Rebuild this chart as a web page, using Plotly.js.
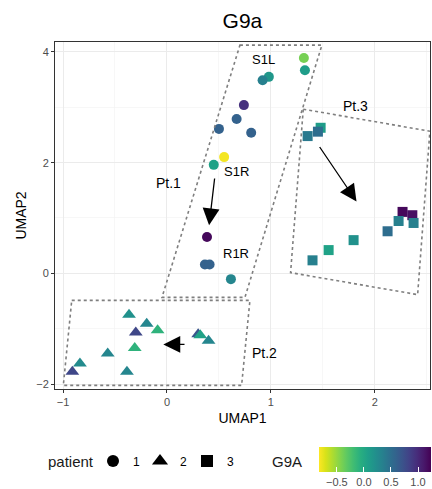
<!DOCTYPE html>
<html><head><meta charset="utf-8">
<script src="https://cdn.plot.ly/plotly-3.0.1.min.js"></script>
<style>html,body{margin:0;padding:0;background:#fff}#plot{width:432px;height:489px}</style>
</head><body><div id="plot"></div>
<script>
// Patient 1 (circles)
const p1_x = [1.317, 1.327, 0.98, 0.92, 0.74, 0.67, 0.50, 0.81, 0.55, 0.45, 0.385, 0.365, 0.41, 0.615];
const p1_y = [3.89, 3.67, 3.55, 3.49, 3.04, 2.79, 2.61, 2.54, 2.10, 1.96, 0.655, 0.16, 0.16, -0.105];
const p1_g = [-0.4, 0.1, 0.15, 0.35, 0.95, 0.6, 0.6, 0.6, -0.8, 0.05, 1.2, 0.6, 0.6, 0.3];
// Patient 2 (triangles)
const p2_x = [-0.365, -0.195, -0.30, -0.09, 0.30, 0.32, 0.40, -0.31, -0.57, -0.837, -0.91, -0.385];
const p2_y = [-0.747, -0.91, -1.07, -1.03, -1.10, -1.12, -1.22, -1.35, -1.45, -1.63, -1.78, -1.78];
const p2_g = [0.2, 0.3, 0.8, -0.1, 0.7, 0.05, 0.3, -0.1, 0.3, 0.25, 0.8, 0.3];
// Patient 3 (squares)
const p3_x = [1.478, 1.452, 1.353, 2.266, 2.36, 2.228, 2.372, 2.122, 1.795, 1.555, 1.40];
const p3_y = [2.63, 2.56, 2.48, 1.11, 1.05, 0.946, 0.91, 0.76, 0.60, 0.42, 0.235];
const p3_g = [0.1, 0.5, 0.4, 1.2, 1.15, 0.35, 0.35, 0.5, 0.2, 0.05, 0.35];

const patients = ['1', '2', '3'];
const colorTicks = [-0.5, 0.0, 0.5, 1.0];
const colorTickText = ['\u22120.5', '0.0', '0.5', '1.0'];

// Annotation region polygons (data coordinates)
const pt1_poly_x = [0.702, 1.490, 0.75, -0.048];
const pt1_poly_y = [4.123, 4.123, -0.434, -0.434];
const pt2_poly_x = [-0.916, 0.798, 0.718, -0.997];
const pt2_poly_y = [-0.488, -0.488, -2.024, -2.024];
const pt3_poly_x = [1.311, 2.529, 2.411, 1.189];
const pt3_poly_y = [2.966, 2.568, -0.385, 0.013];

// Arrows [fromX, fromY, toX, toY]
const arrows = [
  [0.46, 1.74, 0.405, 0.87],
  [1.459, 2.31, 1.823, 1.30],
  [0.183, -1.284, -0.035, -1.284]
];
// Text labels
const labels = [
  {t: 'S1L', x: 0.933, y: 3.87},
  {t: 'S1R', x: 0.673, y: 1.844},
  {t: 'R1R', x: 0.663, y: 0.362},
  {t: 'Pt.1', x: 0.019, y: 1.63},
  {t: 'Pt.3', x: 1.81, y: 3.02},
  {t: 'Pt.2', x: 0.942, y: -1.447}
];

function polyPath(xs, ys) {
  let s = 'M' + xs[0] + ',' + ys[0];
  for (let i = 1; i < xs.length; i++) s += ' L' + xs[i] + ',' + ys[i];
  return s + ' Z';
}

const FONT = 'Liberation Sans, Arial, sans-serif';
const PW = 375, PH = 347, PL = 55, PB = 389; // plot area in pixels
const px2x = p => (p - PL) / PW;
const px2y = p => (PB - p) / PH;

const traces = [
  {x: p1_x, y: p1_y, type: 'scatter', mode: 'markers', showlegend: false, hoverinfo: 'skip',
   marker: {symbol: 'circle', size: 10, color: p1_g, coloraxis: 'coloraxis'}},
  {x: p2_x, y: p2_y, type: 'scatter', mode: 'markers', showlegend: false, hoverinfo: 'skip',
   marker: {symbol: 'triangle-up', size: 12, color: p2_g, coloraxis: 'coloraxis'}},
  {x: p3_x, y: p3_y, type: 'scatter', mode: 'markers', showlegend: false, hoverinfo: 'skip',
   marker: {symbol: 'square', size: 10, color: p3_g, coloraxis: 'coloraxis'}}
];
const syms = ['circle', 'triangle-up', 'square'];
const symSizes = [12, 14, 12];
patients.forEach((p, i) => {
  traces.push({x: [null], y: [null], type: 'scatter', mode: 'markers', name: p, showlegend: true,
    marker: {symbol: syms[i], size: symSizes[i], color: '#000'}});
});

const shapes = [
  [pt1_poly_x, pt1_poly_y], [pt2_poly_x, pt2_poly_y], [pt3_poly_x, pt3_poly_y]
].map(([xs, ys]) => ({type: 'path', xref: 'x', yref: 'y', path: polyPath(xs, ys),
  line: {color: '#7f7f7f', width: 1.6, dash: 'dot'}, layer: 'above'}));

const annotations = [];
arrows.forEach(a => {
  annotations.push({x: a[2], y: a[3], ax: a[0], ay: a[1], xref: 'x', yref: 'y', axref: 'x', ayref: 'y',
    showarrow: true, arrowhead: 2, arrowsize: 2.6, arrowwidth: 1.3, arrowcolor: '#000', text: ''});
});
labels.forEach(l => {
  annotations.push({x: l.x, y: l.y, xref: 'x', yref: 'y', text: l.t, showarrow: false,
    font: {family: FONT, size: l.t.startsWith('Pt') ? 14 : 13, color: '#000'}});
});
annotations.push({x: px2x(287), y: px2y(462), xref: 'paper', yref: 'paper',
  xanchor: 'center', yanchor: 'middle', text: 'G9A', showarrow: false,
  font: {family: FONT, size: 15, color: '#1a1a1a'}});
annotations.push({x: px2x(71), y: px2y(461), xref: 'paper', yref: 'paper',
  xanchor: 'center', yanchor: 'middle', text: 'patient', showarrow: false,
  font: {family: FONT, size: 15, color: '#1a1a1a'}});

const layout = {
  width: 432, height: 489,
  margin: {l: 55, r: 2, t: 42, b: 100, autoexpand: false},
  paper_bgcolor: '#fff', plot_bgcolor: '#fff',
  font: {family: FONT, color: '#000'},
  title: {text: 'G9a', x: 0.5612, xanchor: 'center', y: 0.958, yanchor: 'middle',
    font: {family: FONT, size: 21, color: '#000', weight: 'normal'}},
  xaxis: {range: [-1.077, 2.53], tickvals: [-1, 0, 1, 2], ticktext: ['\u22121', '0', '1', '2'],
    showgrid: true, gridcolor: '#ebebeb', gridwidth: 1,
    minor: {tickvals: [-0.5, 0.5, 1.5, 2.5], showgrid: true, gridcolor: '#f2f2f2', gridwidth: 0.6, ticks: ''},
    zeroline: false, showline: true, mirror: true, linecolor: '#333', linewidth: 1,
    ticks: 'outside', ticklen: 3, tickcolor: '#333', tickfont: {family: FONT, size: 11, color: '#4d4d4d'},
    title: {text: 'UMAP1', font: {family: FONT, size: 14, color: '#000'}, standoff: 5}},
  yaxis: {range: [-2.09, 4.18], tickvals: [-2, 0, 2, 4], ticktext: ['\u22122', '0', '2', '4'],
    showgrid: true, gridcolor: '#ebebeb', gridwidth: 1,
    minor: {tickvals: [-1, 1, 3], showgrid: true, gridcolor: '#f2f2f2', gridwidth: 0.6, ticks: ''},
    zeroline: false, showline: true, mirror: true, linecolor: '#333', linewidth: 1,
    ticks: 'outside', ticklen: 3, tickcolor: '#333', tickfont: {family: FONT, size: 11, color: '#4d4d4d'},
    title: {text: 'UMAP2', font: {family: FONT, size: 14, color: '#000'}, standoff: 6}},
  coloraxis: {
    colorscale: 'Viridis', reversescale: true, cmin: -0.83, cmax: 1.24,
    colorbar: {orientation: 'h', x: px2x(319), xanchor: 'left', y: px2y(447), yanchor: 'top',
      len: 112 / PW, lenmode: 'fraction', thickness: 25, outlinewidth: 0,
      tickvals: colorTicks, ticktext: colorTickText, ticks: 'inside', ticklen: 5, tickcolor: '#fff', tickwidth: 1,
      tickfont: {family: FONT, size: 11, color: '#4d4d4d'}, xpad: 0, ypad: 0}
  },
  showlegend: true,
  legend: {orientation: 'h', x: px2x(93), xanchor: 'left', y: px2y(461), yanchor: 'middle',
    font: {family: FONT, size: 12, color: '#000'}, itemwidth: 30, tracegroupgap: 0,
    entrywidth: 2, entrywidthmode: 'pixels',
    bgcolor: 'rgba(0,0,0,0)'},
  shapes: shapes,
  annotations: annotations
};

Plotly.newPlot('plot', traces, layout, {staticPlot: true, displayModeBar: false});
</script></body></html>
